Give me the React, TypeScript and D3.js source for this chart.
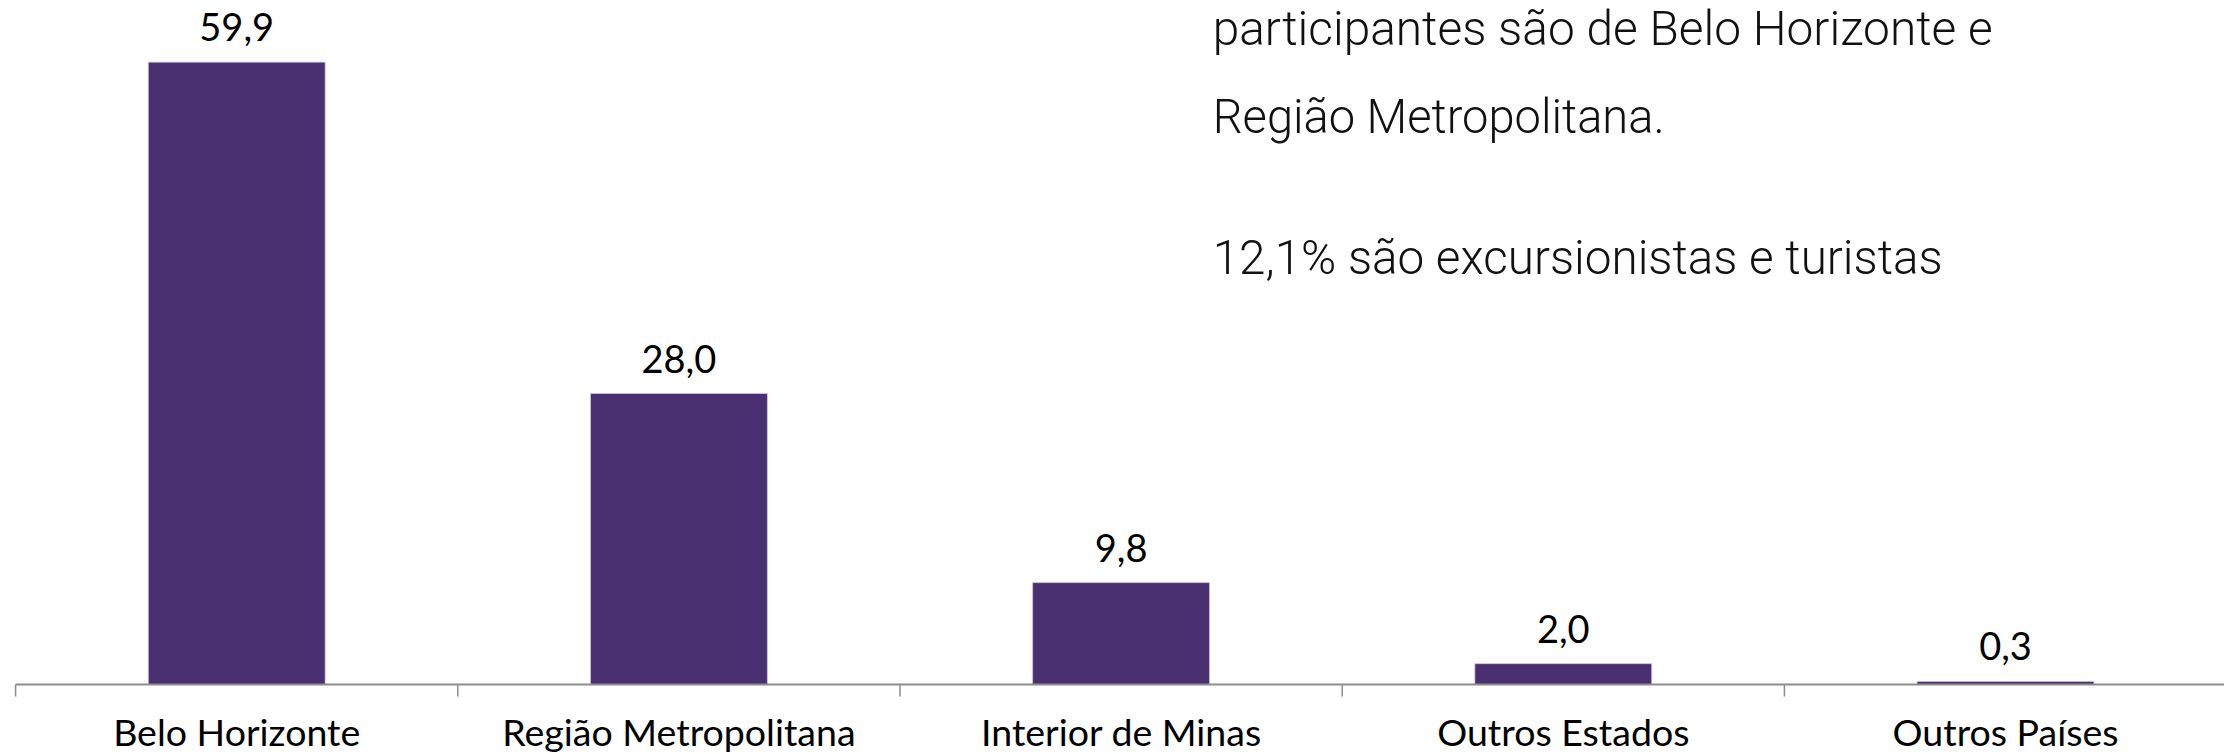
import React from "react";
import * as d3 from "d3";

const categories = ["Belo Horizonte", "Região Metropolitana", "Interior de Minas", "Outros Estados", "Outros Países"];
const values = [59.9, 28.0, 9.8, 2.0, 0.3];
const valueLabels = ["59,9", "28,0", "9,8", "2,0", "0,3"];
const noteLines = [
  "participantes são de Belo Horizonte e",
  "Região Metropolitana.",
  "12,1% são excursionistas e turistas",
];

const W = 2224;
const H = 754;
const BAR = "#4a3070";

export default function App() {
  const x0 = 15.6;
  const step = 442.2;
  const x = d3
    .scaleBand<string>()
    .domain(categories)
    .range([x0, x0 + step * categories.length])
    .paddingInner(0.6)
    .paddingOuter(0.3);
  const baseY = 684.5;
  const y = d3.scaleLinear().domain([0, 65]).range([baseY, baseY - 65 * 10.39]);

  const tickXs = d3.range(categories.length + 1).map((i) => x0 + i * x.step());

  const noteX = 1212.7;
  const noteBaselines = [45, 132.7, 274];
  const noteWidths = [780, 452, 730];

  return (
    <svg
      width={W}
      height={H}
      viewBox={`0 0 ${W} ${H}`}
      style={{ position: "absolute", left: 0, top: 0, background: "#ffffff" }}
    >
      <rect x={0} y={0} width={W} height={H} fill="#ffffff" />
      {categories.map((c, i) => (
        <rect
          key={c}
          x={x(c)}
          y={y(values[i])}
          width={x.bandwidth()}
          height={baseY - y(values[i])}
          fill={BAR}
          stroke="#cfc6dc"
          strokeWidth={0.8}
        />
      ))}
      <line x1={x0} x2={W + 10} y1={baseY} y2={baseY} stroke="#8c8c8c" strokeWidth={2} />
      {tickXs.map((t, i) => (
        <line key={i} x1={t} x2={t} y1={baseY} y2={baseY + 12} stroke="#8c8c8c" strokeWidth={1.5} />
      ))}
      {categories.map((c, i) => (
        <text
          key={"v" + c}
          x={(x(c) ?? 0) + x.bandwidth() / 2}
          y={y(values[i]) - 21}
          textAnchor="middle"
          fontFamily="Lato, 'Noto Sans', sans-serif"
          fontSize={38}
          fill="#000000"
        >
          {valueLabels[i]}
        </text>
      ))}
      {categories.map((c) => (
        <text
          key={"c" + c}
          x={(x(c) ?? 0) + x.bandwidth() / 2}
          y={746}
          textAnchor="middle"
          fontFamily="Lato, 'Noto Sans', sans-serif"
          fontSize={37.5}
          fill="#000000"
        >
          {c}
        </text>
      ))}
      {noteLines.map((t, i) => (
        <text
          key={"n" + i}
          x={noteX}
          y={noteBaselines[i]}
          fontFamily="Roboto, 'Noto Sans', sans-serif"
          fontWeight={300}
          fontSize={49}
          textLength={noteWidths[i]}
          lengthAdjust="spacingAndGlyphs"
          fill="#111111"
        >
          {t}
        </text>
      ))}
    </svg>
  );
}
